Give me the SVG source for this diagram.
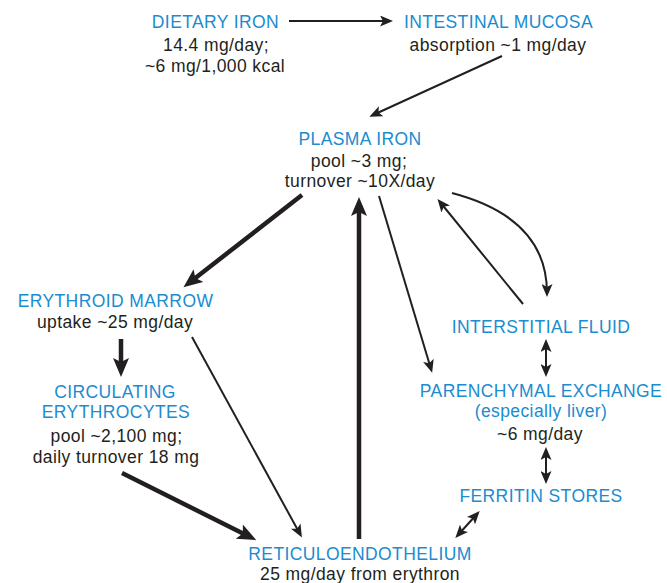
<svg xmlns="http://www.w3.org/2000/svg" width="667" height="583" viewBox="0 0 667 583">
<style>
text{font-family:"Liberation Sans",Arial,Helvetica,sans-serif;font-size:17.5px;letter-spacing:0.4px;text-anchor:middle}
.t{fill:#1a8ccf}
.b{fill:#231f20}
.thin{stroke:#231f20;stroke-width:2;fill:none}
.thick{stroke:#231f20;stroke-width:4.5;fill:none}
</style>
<defs>
<marker id="ah" markerUnits="userSpaceOnUse" markerWidth="14" markerHeight="11" viewBox="0 0 14 11" refX="9" refY="5.5" orient="auto-start-reverse">
<path d="M0,0 L13,5.5 L0,11 L3,5.5 z" fill="#231f20"/>
</marker>
<marker id="ahk" markerUnits="userSpaceOnUse" markerWidth="20" markerHeight="16" viewBox="0 0 20 16" refX="12" refY="8" orient="auto">
<path d="M0,0 L19,8 L0,16 L4,8 z" fill="#231f20"/>
</marker>
</defs>
<rect width="667" height="583" fill="#ffffff"/>
<g id="connectors">
<line class="thin" x1="289" y1="21" x2="389" y2="21" marker-end="url(#ah)"/>
<line class="thin" x1="502" y1="56" x2="373" y2="115" marker-end="url(#ah)"/>
<line class="thick" x1="302" y1="195" x2="189" y2="283" marker-end="url(#ahk)"/>
<line class="thick" x1="359" y1="539" x2="359" y2="204" marker-end="url(#ahk)"/>
<line class="thin" x1="379" y1="196" x2="431" y2="369" marker-end="url(#ah)"/>
<line class="thin" x1="523" y1="304" x2="440" y2="202" marker-end="url(#ah)"/>
<path class="thin" d="M452,193 Q547,218 547,293" marker-end="url(#ah)"/>
<line class="thick" x1="121" y1="339" x2="121" y2="370" marker-end="url(#ahk)"/>
<line class="thin" x1="192" y1="337" x2="300" y2="534" marker-end="url(#ah)"/>
<line class="thick" x1="122" y1="473" x2="250" y2="537" marker-end="url(#ahk)"/>
<line class="thin" x1="546" y1="343" x2="546" y2="373" marker-start="url(#ah)" marker-end="url(#ah)"/>
<line class="thin" x1="546" y1="451" x2="546" y2="480" marker-start="url(#ah)" marker-end="url(#ah)"/>
<line class="thin" x1="477" y1="514" x2="458" y2="535" marker-start="url(#ah)" marker-end="url(#ah)"/>
</g>
<g id="dietary-iron">
<text class="t" x="215.5" y="28">DIETARY IRON</text>
<text class="b" x="216" y="51">14.4 mg/day;</text>
<text class="b" x="215" y="72">~6 mg/1,000 kcal</text>
</g>
<g id="intestinal-mucosa">
<text class="t" x="498.5" y="28">INTESTINAL MUCOSA</text>
<text class="b" x="498" y="51">absorption ~1 mg/day</text>
</g>
<g id="plasma-iron">
<text class="t" x="360" y="145">PLASMA IRON</text>
<text class="b" x="359" y="167">pool ~3 mg;</text>
<text class="b" x="360" y="187">turnover ~10X/day</text>
</g>
<g id="erythroid-marrow">
<text class="t" x="115.5" y="307">ERYTHROID MARROW</text>
<text class="b" x="115" y="328">uptake ~25 mg/day</text>
</g>
<g id="circulating-erythrocytes">
<text class="t" x="115" y="398">CIRCULATING</text>
<text class="t" x="116" y="418">ERYTHROCYTES</text>
<text class="b" x="116.5" y="442">pool ~2,100 mg;</text>
<text class="b" x="116" y="463">daily turnover 18 mg</text>
</g>
<g id="interstitial-fluid">
<text class="t" x="541" y="333">INTERSTITIAL FLUID</text>
</g>
<g id="parenchymal-exchange">
<text class="t" x="541" y="397">PARENCHYMAL EXCHANGE</text>
<text class="t" x="541" y="417">(especially liver)</text>
<text class="b" x="540" y="440">~6 mg/day</text>
</g>
<g id="ferritin-stores">
<text class="t" x="541" y="502">FERRITIN STORES</text>
</g>
<g id="reticuloendothelium">
<text class="t" x="360" y="560">RETICULOENDOTHELIUM</text>
<text class="b" x="360" y="580">25 mg/day from erythron</text>
</g>
</svg>
